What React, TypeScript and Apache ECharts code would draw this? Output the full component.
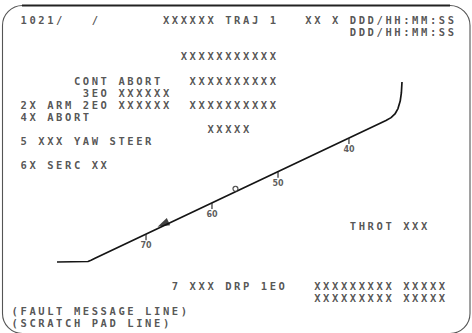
import React, { useEffect, useRef } from "react";
import * as echarts from "echarts";

// Display format text, one string per character row (51-column grid)
const sp = (n: number) => " ".repeat(n);
const displayLines: string[] = [
  "",
  " 1021/" + sp(3) + "/" + sp(7) + "XXXXXX TRAJ 1" + sp(3) + "XX X DDD/HH:MM:SS",
  sp(38) + "DDD/HH:MM:SS",
  "",
  sp(19) + "XXXXXXXXXXX",
  "",
  sp(7) + "CONT ABORT" + sp(3) + "XXXXXXXXXX",
  sp(8) + "3EO XXXXXX",
  " 2X ARM 2EO XXXXXX" + sp(2) + "XXXXXXXXXX",
  " 4X ABORT",
  sp(22) + "XXXXX",
  " 5 XXX YAW STEER",
  "",
  " 6X SERC XX",
  "",
  "",
  "",
  "",
  sp(38) + "THROT XXX",
  "",
  "",
  "",
  "",
  sp(18) + "7 XXX DRP 1EO" + sp(3) + "XXXXXXXXX XXXXX",
  sp(34) + "XXXXXXXXX XXXXX",
  "(FAULT MESSAGE LINE)",
  "(SCRATCH PAD LINE)",
];

// Trajectory line (display column / row units)
const trajCol = [5.16, 8.64, 8.98, 9.43, 42.12, 42.69, 43.13, 43.47, 43.72, 43.85, 43.92];
const trajRow = [20.99, 20.95, 20.85, 20.69, 9.3, 9.06, 8.76, 8.31, 7.69, 7.02, 6.12];

// Scale ticks along the trajectory
const tickLabels = ["70", "60", "50", "40"];
const tickCol = [15.16, 22.57, 29.99, 37.96];
const tickRow = [18.69, 16.12, 13.53, 10.74];

// Vehicle (triangle) and predictor (circle)
const vehicleCol = [17.07];
const vehicleRow = [17.86];
const predictorCol = [25.21];
const predictorRow = [14.94];

export default function App() {
  const ref = useRef<HTMLDivElement>(null);

  useEffect(() => {
    if (!ref.current) return;
    const chart = echarts.init(ref.current, undefined, { renderer: "svg" });

    const textData: any[] = [];
    displayLines.forEach((line, row) => {
      const re = /\S+(?: \S+)*/g;
      let m: RegExpExecArray | null;
      while ((m = re.exec(line)) !== null) {
        textData.push({ value: [m.index, row], name: m[0] });
      }
    });

    const option: any = {
      animation: false,
      backgroundColor: "#ffffff",
      grid: { left: 11.1, top: 8, width: 445, height: 314.6, containLabel: false },
      xAxis: { type: "value", min: 0, max: 50, show: false, splitLine: { show: false } },
      yAxis: { type: "value", min: 0, max: 26, inverse: true, show: false, splitLine: { show: false } },
      graphic: [
        {
          type: "rect",
          shape: { x: 2.5, y: 5.5, width: 467.5, height: 328, r: 20 },
          style: { fill: "none", stroke: "#555", lineWidth: 1.1 },
          silent: true,
        },
        {
          type: "line",
          shape: { x1: 22, y1: 5.5, x2: 450, y2: 5.5 },
          style: { stroke: "#222", lineWidth: 2 },
          silent: true,
        },
      ],
      series: [
        {
          type: "line",
          data: trajCol.map((c, i) => [c, trajRow[i]]),
          symbol: "none",
          lineStyle: { color: "#151515", width: 1.7 },
          silent: true,
          z: 2,
        },
        {
          type: "scatter",
          data: tickCol.map((c, i) => ({ value: [c, tickRow[i]], name: tickLabels[i] })),
          symbol: "rect",
          symbolSize: [1.4, 6],
          symbolOffset: [0, 3],
          itemStyle: { color: "#222" },
          label: {
            show: true,
            position: "bottom",
            distance: 1.5,
            formatter: (p: any) => p.name,
            fontFamily: "DejaVu Sans",
            fontWeight: "bold",
            fontSize: 8,
            color: "#333",
          },
          silent: true,
          z: 3,
        },
        {
          type: "scatter",
          data: vehicleCol.map((c, i) => [c, vehicleRow[i]]),
          symbol: "triangle",
          symbolSize: [8, 12],
          symbolRotate: 115,
          itemStyle: { color: "#111" },
          silent: true,
          z: 4,
        },
        {
          type: "scatter",
          data: predictorCol.map((c, i) => [c, predictorRow[i]]),
          symbol: "circle",
          symbolSize: 5,
          itemStyle: { color: "#fff", borderColor: "#222", borderWidth: 1.2 },
          silent: true,
          z: 4,
        },
        {
          type: "scatter",
          data: textData,
          symbolSize: 1,
          itemStyle: { color: "transparent" },
          label: {
            show: true,
            position: "right",
            distance: 0,
            formatter: (p: any) => p.name,
            fontFamily: "DejaVu Sans Mono",
            fontWeight: "bold",
            fontSize: 10.5,
            color: "#2a2a2a",
          },
          silent: true,
          z: 5,
        },
      ],
    };
    chart.setOption(option);
    return () => chart.dispose();
  }, []);

  return (
    <>
      <style>{`body{margin:0} .crt text[style*="Mono"]{letter-spacing:2.58px}`}</style>
      <div
        ref={ref}
        className="crt"
        style={{ position: "fixed", left: 0, top: 0, width: 472, height: 333, background: "#fff" }}
      />
    </>
  );
}
